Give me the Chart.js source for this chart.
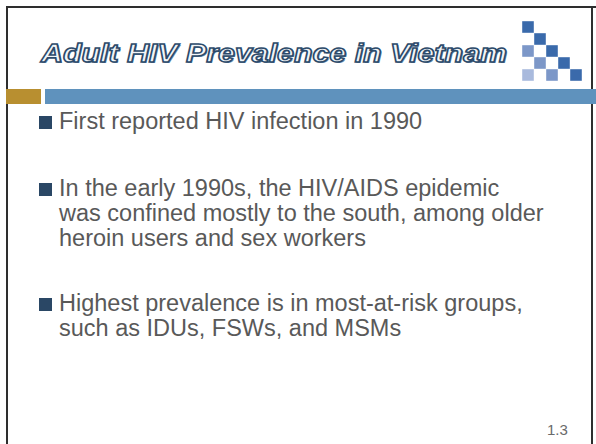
<!DOCTYPE html>
<html>
<head>
<meta charset="utf-8">
<script src="https://cdn.jsdelivr.net/npm/chart.js@4.4.1/dist/chart.umd.min.js"></script>
<style>
  html, body { margin:0; padding:0; background:#fff; }
  #slide { position:relative; width:596px; height:444px; overflow:hidden; background:#fff; font-family:"Liberation Sans", Arial, sans-serif; }
  .frame { position:absolute; background:#2e2e2e; }
  #title { position:absolute; left:41px; top:36px; font-size:26.5px; line-height:34px; font-weight:bold; font-style:italic; white-space:nowrap;
           color:#f2f5f8; -webkit-text-stroke:1.5px #2c4a6a; text-shadow:1px 1px 0 #6f8aa6; transform-origin:0 0; }
  .bar { position:absolute; }
  .bullet { position:absolute; left:39px; width:13px; height:13px; background:#2a4765; }
  .para { position:absolute; left:59px; font-size:23.5px; line-height:25px; color:#595959; white-space:nowrap; }
  #pnum { position:absolute; left:547px; top:421px; font-size:15px; line-height:17px; color:#6a6a6a; }
  #logoWrap { position:absolute; left:522px; top:21px; width:60px; height:60px; }
</style>
</head>
<body>
<div id="slide">
  <div class="frame" style="left:6px; top:6px; width:590px; height:2px;"></div>
  <div class="frame" style="left:6px; top:6px; width:2px; height:438px;"></div>
  <div class="frame" style="left:591px; top:6px; width:2px; height:438px;"></div>

  <div id="title"><span id="titleText">Adult HIV Prevalence in Vietnam</span></div>

  <div id="logoWrap"><canvas id="logo" width="60" height="60"></canvas></div>

  <div class="bar" style="left:6px; top:89px; width:35px; height:15px; background:#b88f30;"></div>
  <div class="bar" style="left:45px; top:89px; width:551px; height:15px; background:#5f92bd;"></div>

  <div class="bullet" style="top:116px;"></div>
  <div class="para" style="top:109px;">First reported HIV infection in 1990</div>

  <div class="bullet" style="top:183px;"></div>
  <div class="para" style="top:176px;">In the early 1990s, the HIV/AIDS epidemic<br>was confined mostly to the south, among older<br>heroin users and sex workers</div>

  <div class="bullet" style="top:298px;"></div>
  <div class="para" style="top:291px;">Highest prevalence is in most-at-risk groups,<br>such as IDUs, FSWs, and MSMs</div>

  <div id="pnum">1.3</div>
</div>
<script>
// Decorative logo: a 5x5 grid of squares (column, row, shade)
const logoCols  = [0, 1, 0, 2, 1, 3, 0, 2, 4];
const logoRows  = [0, 1, 2, 2, 3, 3, 4, 4, 4];
const logoShade = ['dark','dark','mid','dark','mid','dark','light','mid','dark'];
const shadeColors = { dark:'#3a6aab', mid:'#7c97c8', light:'#a9badd' };

// widen the title so it spans the same width as in the slide
(function fitTitle(){
  const t = document.getElementById('titleText');
  const w = t.getBoundingClientRect().width;
  const target = 466;
  if (w > 0) document.getElementById('title').style.transform = 'scaleX(' + (target / w) + ')';
})();

const pts = logoCols.map((c, i) => ({ x: c, y: logoRows[i] }));
new Chart(document.getElementById('logo'), {
  type: 'scatter',
  data: { datasets: [{
    data: pts,
    pointStyle: 'rect',
    pointRadius: 8.2,
    pointHoverRadius: 8.2,
    borderWidth: 0,
    clip: false,
    backgroundColor: logoShade.map(s => shadeColors[s])
  }]},
  options: {
    responsive: false, animation: false, events: [],
    layout: { padding: 0, autoPadding: false },
    plugins: { legend: { display:false }, tooltip: { enabled:false } },
    scales: {
      x: { type:'linear', min:-0.5, max:4.5, display:false },
      y: { type:'linear', min:-0.5, max:4.5, reverse:true, display:false }
    }
  }
});
</script>
</body>
</html>
